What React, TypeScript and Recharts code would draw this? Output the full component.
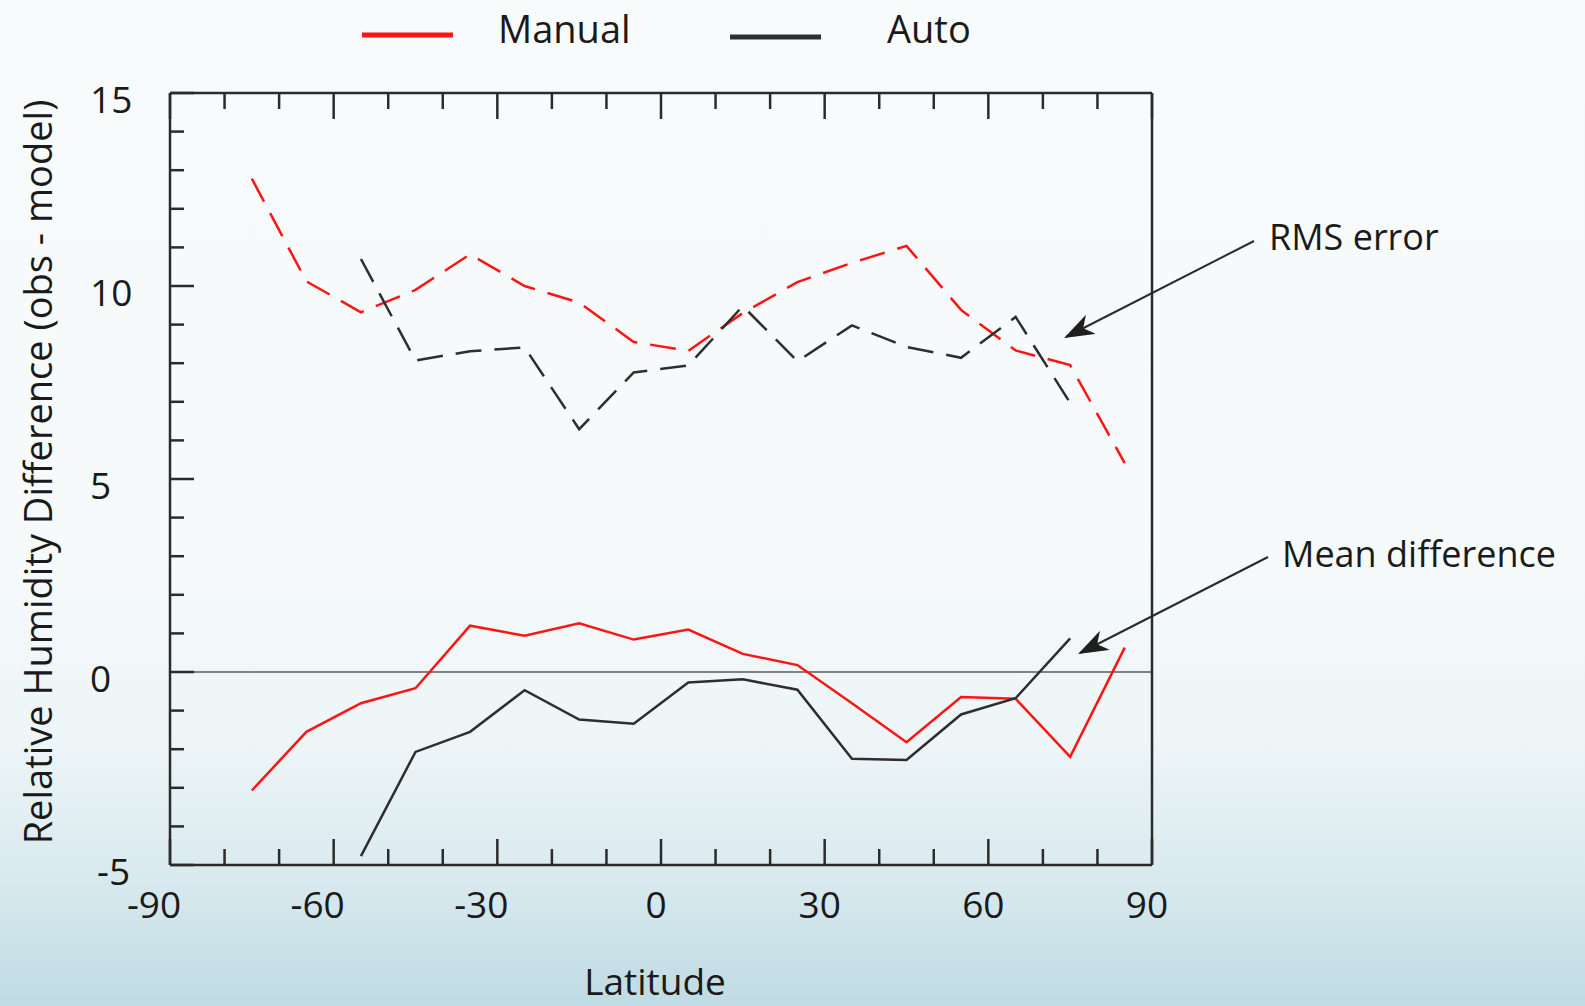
import React from 'react';
import { LineChart, Line, XAxis, YAxis, ReferenceLine } from 'recharts';

// Latitude bin centres (degrees)
const latitudes = [-75, -65, -55, -45, -35, -25, -15, -5, 5, 15, 25, 35, 45, 55, 65, 75, 85];
// RMS error (dashed)
const manualRms = [12.78, 10.12, 9.32, 9.9, 10.82, 10.0, 9.57, 8.55, 8.32, 9.3, 10.1, 10.6, 11.04, 9.38, 8.33, 7.95, 5.41];
const autoRms = [null, null, 10.7, 8.07, 8.31, 8.41, 6.29, 7.76, 7.94, 9.48, 8.05, 8.98, 8.42, 8.14, 9.2, 6.97, null];
// Mean difference (solid)
const manualMean = [-3.07, -1.55, -0.81, -0.42, 1.2, 0.94, 1.26, 0.84, 1.1, 0.47, 0.18, -0.81, -1.82, -0.65, -0.69, -2.2, 0.63];
const autoMean = [null, null, -4.77, -2.07, -1.55, -0.47, -1.23, -1.34, -0.27, -0.19, -0.46, -2.25, -2.28, -1.1, -0.68, 0.87, null];

// Axis ticks
const xTicks = [-90, -80, -70, -60, -50, -40, -30, -20, -10, 0, 10, 20, 30, 40, 50, 60, 70, 80, 90];
const xTickLabels = [-90, -60, -30, 0, 30, 60, 90];
const yTicks = [-5, -4, -3, -2, -1, 0, 1, 2, 3, 4, 5, 6, 7, 8, 9, 10, 11, 12, 13, 14, 15];
const yTickLabels = [-5, 0, 5, 10, 15];

const seriesNames = ['Manual', 'Auto'];
const xLabel = 'Latitude';
const yLabel = 'Relative Humidity Difference (obs - model)';
const annotations = ['RMS error', 'Mean difference'];

const data = latitudes.map((lat, i) => ({
  lat,
  manualRms: manualRms[i],
  autoRms: autoRms[i],
  manualMean: manualMean[i],
  autoMean: autoMean[i],
}));

const FONT = '"Open Sans", "Noto Sans", sans-serif';
const FRAME = '#2b2b2b';
const RED = '#ff1414';
const BLACK = '#2e2e2e';

const BottomTick = (props: any) => {
  const { x, y, payload } = props;
  const v = payload.value;
  const major = xTickLabels.includes(v);
  const len = major ? 26 : 16;
  return (
    <g>
      <line x1={x} y1={y} x2={x} y2={y - len} stroke={FRAME} strokeWidth={2.5} />
      {major && (
        <text
          x={v < 0 ? x - 16 : x - 5}
          y={y + 38}
          textAnchor="middle"
          dominantBaseline="central"
          fontFamily={FONT}
          fontSize={37}
          fill="#1a1a1a"
        >
          {String(v)}
        </text>
      )}
    </g>
  );
};

const TopTick = (props: any) => {
  const { x, y, payload } = props;
  const major = xTickLabels.includes(payload.value);
  const len = major ? 26 : 16;
  return <line x1={x} y1={y} x2={x} y2={y + len} stroke={FRAME} strokeWidth={2.5} />;
};

const LeftTick = (props: any) => {
  const { x, y, payload } = props;
  const v = payload.value;
  const major = yTickLabels.includes(v);
  const len = major ? 24 : 14;
  return (
    <g>
      <line x1={x} y1={y} x2={x + len} y2={y} stroke={FRAME} strokeWidth={2.5} />
      {major && (
        <text
          x={v < 0 ? 97 : 90}
          y={y + 5}
          textAnchor="start"
          dominantBaseline="central"
          fontFamily={FONT}
          fontSize={37}
          fill="#1a1a1a"
        >
          {String(v)}
        </text>
      )}
    </g>
  );
};

const RightTick = (props: any) => {
  const { x, y, payload } = props;
  const major = yTickLabels.includes(payload.value);
  const len = major ? 24 : 14;
  return <line x1={x} y1={y} x2={x - len} y2={y} stroke={FRAME} strokeWidth={2.5} />;
};

export default function App() {
  return (
    <div
      style={{
        position: 'fixed',
        left: 0,
        top: 0,
        width: 1585,
        height: 1006,
        overflow: 'hidden',
        background:
          'linear-gradient(to bottom, #f8fbfc 0%, #f6fafb 55%, #edf5f7 74%, #d9eaef 87%, #bfdbe3 100%)',
      }}
    >
      <LineChart
        width={1585}
        height={1006}
        data={data}
        margin={{ top: 0, right: 0, bottom: 0, left: 0 }}
      >
        <XAxis
          xAxisId="bottom"
          dataKey="lat"
          type="number"
          domain={[-90, 90]}
          ticks={xTicks}
          interval={0}
          orientation="bottom"
          height={141}
          tickSize={0}
          tickMargin={0}
          tickLine={false}
          tick={<BottomTick />}
          axisLine={{ stroke: FRAME, strokeWidth: 2.5 }}
        />
        <XAxis
          xAxisId="top"
          dataKey="lat"
          type="number"
          domain={[-90, 90]}
          ticks={xTicks}
          interval={0}
          orientation="top"
          height={93}
          tickSize={0}
          tickMargin={0}
          tickLine={false}
          tick={<TopTick />}
          axisLine={{ stroke: FRAME, strokeWidth: 2.5 }}
        />
        <YAxis
          yAxisId="left"
          type="number"
          domain={[-5, 15]}
          ticks={yTicks}
          interval={0}
          width={170}
          tickSize={0}
          tickMargin={0}
          tickLine={false}
          tick={<LeftTick />}
          axisLine={{ stroke: FRAME, strokeWidth: 2.5 }}
        />
        <YAxis
          yAxisId="right"
          orientation="right"
          type="number"
          domain={[-5, 15]}
          ticks={yTicks}
          interval={0}
          width={433}
          tickSize={0}
          tickMargin={0}
          tickLine={false}
          tick={<RightTick />}
          axisLine={{ stroke: FRAME, strokeWidth: 2.5 }}
        />
        <ReferenceLine xAxisId="bottom" yAxisId="left" y={0} stroke="#5a5a5a" strokeWidth={1.5} />
        <Line
          xAxisId="bottom"
          yAxisId="left"
          dataKey="manualRms"
          name={seriesNames[0]}
          stroke={RED}
          strokeWidth={2.5}
          strokeDasharray="26 13"
          dot={false}
          isAnimationActive={false}
        />
        <Line
          xAxisId="bottom"
          yAxisId="left"
          dataKey="autoRms"
          name={seriesNames[1]}
          stroke={BLACK}
          strokeWidth={2.5}
          strokeDasharray="26 13"
          dot={false}
          isAnimationActive={false}
        />
        <Line
          xAxisId="bottom"
          yAxisId="left"
          dataKey="manualMean"
          name={seriesNames[0]}
          stroke={RED}
          strokeWidth={2.5}
          dot={false}
          isAnimationActive={false}
        />
        <Line
          xAxisId="bottom"
          yAxisId="left"
          dataKey="autoMean"
          name={seriesNames[1]}
          stroke={BLACK}
          strokeWidth={2.5}
          dot={false}
          isAnimationActive={false}
        />
      </LineChart>
      <svg
        width={1585}
        height={1006}
        style={{ position: 'absolute', left: 0, top: 0, pointerEvents: 'none' }}
      >
        <defs>
          <marker
            id="arrowHead"
            viewBox="0 0 14 10"
            refX={13}
            refY={5}
            markerUnits="userSpaceOnUse"
            markerWidth={30}
            markerHeight={22}
            orient="auto"
          >
            <path d="M0,0 L14,5 L0,10 L4,5 z" fill="#1f1f1f" />
          </marker>
        </defs>
        {/* Legend */}
        <line x1={362} y1={35} x2={453} y2={35} stroke={RED} strokeWidth={5} />
        <text x={498} y={28} dominantBaseline="central" fontFamily={FONT} fontSize={38} fill="#1a1a1a">
          {seriesNames[0]}
        </text>
        <line x1={730} y1={37} x2={821} y2={37} stroke={BLACK} strokeWidth={5} />
        <text x={887} y={28} dominantBaseline="central" fontFamily={FONT} fontSize={38} fill="#1a1a1a">
          {seriesNames[1]}
        </text>
        {/* Axis titles */}
        <text
          x={37}
          y={472}
          transform="rotate(-90, 37, 472)"
          textAnchor="middle"
          dominantBaseline="central"
          fontFamily={FONT}
          fontSize={38}
          fill="#1a1a1a"
        >
          {yLabel}
        </text>
        <text
          x={655}
          y={980}
          textAnchor="middle"
          dominantBaseline="central"
          fontFamily={FONT}
          fontSize={37}
          fill="#1a1a1a"
        >
          {xLabel}
        </text>
        {/* Annotations */}
        <text x={1269} y={236} dominantBaseline="central" fontFamily={FONT} fontSize={36} fill="#1a1a1a">
          {annotations[0]}
        </text>
        <line x1={1254} y1={241} x2={1066} y2={337} stroke="#2a2a2a" strokeWidth={2} markerEnd="url(#arrowHead)" />
        <text x={1282} y={553} dominantBaseline="central" fontFamily={FONT} fontSize={36} fill="#1a1a1a">
          {annotations[1]}
        </text>
        <line x1={1268} y1={557} x2={1080} y2={653} stroke="#2a2a2a" strokeWidth={2} markerEnd="url(#arrowHead)" />
      </svg>
    </div>
  );
}
